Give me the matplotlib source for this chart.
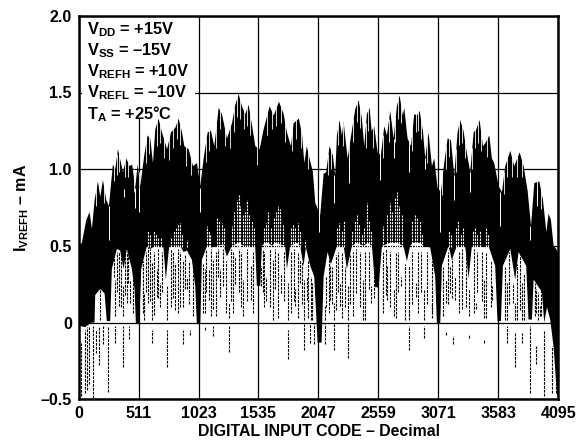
import numpy as np
import matplotlib
matplotlib.use("Agg")
import matplotlib.pyplot as plt
from matplotlib.patches import Rectangle

plt.rcParams['font.family'] = ['Liberation Sans', 'DejaVu Sans']
plt.rcParams['font.weight'] = 'bold'
plt.rcParams['axes.labelweight'] = 'bold'
plt.rcParams['mathtext.fontset'] = 'custom'
plt.rcParams['mathtext.bf'] = 'Liberation Sans:bold'
plt.rcParams['mathtext.rm'] = 'Liberation Sans:bold'
plt.rcParams['mathtext.default'] = 'bf'

x_ticks = [0, 511, 1023, 1535, 2047, 2559, 3071, 3583, 4095]
y_ticks = [-0.5, 0, 0.5, 1.0, 1.5, 2.0]
y_labels = ["–0.5", "0", "0.5", "1.0", "1.5", "2.0"]

notes = [r"$\mathbf{V_{DD}}$ = +15V", r"$\mathbf{V_{SS}}$ = –15V",
         r"$\mathbf{V_{REFH}}$ = +10V", r"$\mathbf{V_{REFL}}$ = –10V",
         r"$\mathbf{T_{A}}$ = +25°C"]

# top of the black band
top_code = [0, 27, 65, 93, 113, 136, 164, 184, 207, 235, 258, 292, 312, 335, 361, 378, 406, 435, 457, 483,
            503, 526, 560, 588, 611, 634, 654, 682, 711, 754, 788, 825, 853, 882, 902, 939, 976, 1010, 1038,
            1067, 1101, 1129, 1158, 1195, 1223, 1266, 1309, 1337, 1366, 1394, 1422, 1451, 1479, 1508, 1545,
            1579, 1630, 1665, 1710, 1750, 1778, 1812, 1835, 1880, 1908, 1926, 1948, 1971, 2000, 2020, 2062,
            2091, 2113, 2142, 2170, 2190, 2205, 2227, 2247, 2262, 2296, 2324, 2361, 2390, 2418, 2438, 2461,
            2484, 2501, 2523, 2552, 2580, 2609, 2632, 2660, 2689, 2717, 2740, 2768, 2780, 2808, 2837, 2865,
            2888, 2911, 2939, 2959, 2987, 3016, 3036, 3064, 3093, 3121, 3150, 3178, 3207, 3235, 3258, 3286,
            3309, 3343, 3372, 3395, 3423, 3452, 3472, 3506, 3528, 3548, 3585, 3614, 3642, 3685, 3719, 3765,
            3799, 3833, 3862, 3890, 3933, 3964, 3993, 4012, 4032, 4055, 4078, 4095]
top_ma = [0.50, 0.52, 0.67, 0.72, 0.61, 0.80, 0.92, 0.82, 0.93, 0.80, 0.76, 1.03, 1.00, 1.13, 1.04, 0.98, 1.07,
          1.02, 1.03, 0.88, 1.03, 0.89, 1.09, 1.22, 1.20, 1.04, 1.26, 1.33, 1.24, 1.13, 1.24, 1.27, 1.33, 1.24,
          1.15, 1.13, 1.02, 1.04, 0.89, 1.07, 1.24, 1.25, 1.15, 1.40, 1.36, 1.20, 1.30, 1.42, 1.49, 1.41, 1.36,
          1.42, 1.29, 1.15, 1.13, 1.26, 1.41, 1.35, 1.44, 1.36, 1.24, 1.15, 1.30, 1.33, 1.22, 1.04, 1.15, 1.07,
          0.98, 0.78, 0.70, 0.97, 0.98, 1.15, 1.09, 0.96, 1.22, 1.32, 1.22, 1.31, 1.07, 1.21, 1.39, 1.45, 1.33,
          1.15, 1.36, 1.40, 1.25, 1.28, 1.11, 1.09, 1.28, 1.22, 1.38, 1.20, 1.41, 1.48, 1.35, 1.40, 1.20, 1.15,
          1.36, 1.35, 1.38, 1.25, 1.07, 1.24, 1.02, 1.07, 0.88, 0.85, 1.04, 1.20, 1.19, 0.96, 1.24, 1.32, 1.25,
          1.13, 0.98, 1.24, 1.26, 1.32, 1.15, 1.17, 1.22, 1.07, 1.04, 0.89, 0.85, 1.02, 1.12, 1.02, 1.11, 1.02,
          0.86, 0.63, 0.91, 0.92, 0.80, 0.59, 0.71, 0.67, 0.50, 0.48, 0.45]

# bottom of the solid black band
low_code = [0, 4, 55, 107, 135, 141, 184, 221, 240, 269, 283, 326, 354, 383, 411, 454, 477, 488, 517, 534, 582,
            611, 653, 724, 744, 773, 824, 867, 895, 924, 966, 995, 1009, 1038, 1052, 1095, 1137, 1180, 1237,
            1265, 1308, 1365, 1408, 1436, 1464, 1507, 1521, 1550, 1564, 1593, 1621, 1649, 1678, 1721, 1763,
            1778, 1806, 1863, 1891, 1920, 1940, 1977, 2011, 2040, 2074, 2091, 2125, 2153, 2205, 2262, 2290,
            2333, 2375, 2432, 2467, 2504, 2532, 2561, 2589, 2660, 2717, 2773, 2802, 2830, 2853, 2916, 2944,
            3001, 3044, 3058, 3087, 3101, 3158, 3186, 3229, 3300, 3329, 3357, 3428, 3499, 3556, 3576, 3605,
            3622, 3685, 3727, 3756, 3821, 3841, 3870, 3884, 3955, 3975, 3998, 4026, 4055, 4083, 4095]
low_ma = [-0.05, -0.02, -0.03, 0.0, 0.0, 0.18, 0.22, 0.19, 0.01, 0.01, 0.35, 0.48, 0.47, 0.35, 0.48, 0.35, 0.22,
          0.0, -0.01, 0.35, 0.50, 0.48, 0.50, 0.49, 0.28, 0.50, 0.50, 0.50, 0.46, 0.47, 0.41, 0.24, -0.01, -0.01,
          0.41, 0.50, 0.49, 0.50, 0.51, 0.43, 0.50, 0.52, 0.50, 0.50, 0.50, 0.50, 0.24, 0.24, 0.50, 0.52, 0.52,
          0.50, 0.52, 0.51, 0.50, 0.35, 0.50, 0.52, 0.50, 0.37, 0.49, 0.37, 0.30, -0.13, -0.13, 0.30, 0.46, 0.38,
          0.50, 0.50, 0.35, 0.50, 0.52, 0.50, 0.52, 0.50, 0.23, 0.23, 0.50, 0.52, 0.52, 0.50, 0.40, 0.50, 0.52,
          0.52, 0.50, 0.49, 0.30, 0.0, -0.01, 0.37, 0.50, 0.41, 0.50, 0.50, 0.29, 0.50, 0.50, 0.50, 0.37, 0.01,
          0.01, 0.37, 0.48, 0.28, 0.46, 0.37, 0.02, 0.02, 0.28, 0.20, 0.0, 0.10, 0.02, -0.16, -0.46, -0.5]

# dashed glitch columns under the band
dash_code = [21, 50, 75, 90, 118, 147, 175, 209, 246, 306, 374, 431, 625, 756, 887, 952, 1075, 1146, 1280, 1783,
             1920, 1977, 2011, 2105, 2176, 2299, 2822, 2950, 3135, 3200, 3334, 3457, 3656, 3727, 3784, 3850,
             3907, 3975, 4040, 4075,
             184, 312, 346, 374, 411, 440, 554, 591, 630, 667, 696, 753, 824, 887, 924, 1075, 1114, 1146, 1208,
             1280, 1337, 1402, 1473, 1555, 1601, 1658, 1726, 1783, 1849, 1891, 1920, 1948, 1983, 2105, 2142,
             2176, 2233, 2299, 2370, 2427, 2495, 2632, 2689, 2754, 2817, 2822, 2882, 2950, 3015, 3135, 3172,
             3215, 3272, 3334, 3394, 3457, 3528, 3656, 3707, 3727, 3784, 3907, 3941,
             300, 330, 360, 395, 425, 460, 545, 575, 610, 645, 680, 710, 790, 805, 845, 865, 905, 945, 975,
             1060, 1090, 1130, 1170, 1190, 1230, 1255, 1300, 1320, 1365, 1385, 1440, 1490,
             1570, 1585, 1630, 1680, 1700, 1750, 1815, 1840, 1875, 1905, 1960, 1995,
             2110, 2135, 2160, 2195, 2215, 2250, 2275, 2320, 2345, 2400, 2445, 2475, 2520,
             2600, 2620, 2660, 2705, 2725, 2790, 2845, 2900, 2920, 2975, 3020,
             3110, 3150, 3190, 3245, 3270, 3310, 3375, 3400, 3445, 3480, 3520,
             3640, 3670, 3745, 3770, 3800, 3895, 3925, 3950]
dash_top = [-0.13, -0.05, -0.03, -0.03, -0.02, -0.05, -0.02, -0.02, -0.02, -0.02, -0.02, -0.02, -0.05, -0.05, -0.05,
            -0.05, -0.02, -0.02, -0.02, -0.05, -0.01, -0.01, -0.01, -0.01, -0.01, -0.01, -0.02, -0.02, -0.06, -0.09,
            -0.08, -0.11, -0.02, -0.06, -0.07, -0.02, -0.15, -0.05, -0.15, -0.20,
            0.24, 0.28, 0.46, 0.24, 0.46, 0.28, 0.19, 0.59, 0.39, 0.35, 0.26, 0.24, 0.39, 0.41, 0.30, 0.35, 0.35,
            0.41, 0.35, 0.13, 0.43, 0.28, 0.37, 0.37, 0.30, 0.41, 0.32, 0.26, 0.22, 0.41, 0.28, 0.30, 0.30, 0.11,
            0.37, 0.13, 0.26, 0.24, 0.48, 0.28, 0.24, 0.37, 0.22, 0.30, 0.22, 0.37, 0.26, 0.22, 0.13, 0.28, 0.37,
            0.30, 0.28, 0.22, 0.13, 0.28, 0.24, 0.26, 0.26, 0.13, 0.26, 0.22, 0.11,
            0.46, 0.46, 0.44, 0.46, 0.44, 0.33, 0.40, 0.46, 0.48, 0.46, 0.48, 0.46, 0.48, 0.46, 0.48, 0.46, 0.44,
            0.40, 0.36, 0.38, 0.48, 0.48, 0.46, 0.48, 0.48, 0.40, 0.48, 0.46, 0.48, 0.46, 0.48, 0.46,
            0.48, 0.46, 0.48, 0.48, 0.46, 0.46, 0.46, 0.48, 0.46, 0.40, 0.40, 0.26,
            0.30, 0.42, 0.36, 0.44, 0.46, 0.46, 0.36, 0.44, 0.46, 0.46, 0.46, 0.46, 0.40,
            0.46, 0.48, 0.46, 0.46, 0.46, 0.38, 0.46, 0.46, 0.46, 0.46, 0.40,
            0.36, 0.46, 0.42, 0.46, 0.48, 0.44, 0.48, 0.46, 0.46, 0.46, 0.40,
            0.36, 0.46, 0.38, 0.44, 0.32, 0.26, 0.20, 0.22]
dash_bottom = [-0.48, -0.46, -0.44, -0.40, -0.49, -0.20, -0.275, -0.14, -0.45, -0.13, -0.29, -0.11, -0.13, -0.29,
               -0.14, -0.08, -0.05, -0.09, -0.19, -0.24, -0.18, -0.13, -0.14, -0.14, -0.18, -0.23, -0.18, -0.10,
               -0.08, -0.14, -0.10, -0.13, -0.13, -0.29, -0.13, -0.46, -0.27, -0.48, -0.46, -0.46,
               0.02, 0.04, 0.11, 0.04, 0.13, 0.13, 0.02, 0.13, 0.02, 0.17, 0.10, 0.02, 0.08, 0.10, 0.22, 0.06, 0.15,
               0.09, 0.17, 0.03, 0.25, 0.04, 0.15, 0.24, 0.14, 0.02, 0.19, 0.02, 0.11, 0.26, 0.02, 0.15, 0.02, 0.02,
               0.15, 0.02, 0.11, 0.02, 0.19, 0.02, 0.13, 0.15, 0.04, 0.24, 0.04, 0.02, 0.17, 0.02, 0.03, 0.13, 0.19,
               0.15, 0.09, 0.04, 0.09, 0.03, 0.15, 0.02, 0.13, 0.02, 0.02, 0.06, 0.04,
               0.30, 0.20, 0.10, 0.18, 0.26, 0.06, 0.06, 0.20, 0.14, 0.05, 0.16, 0.20, 0.10, 0.16, 0.06, 0.10, 0.22,
               0.12, 0.04, 0.06, 0.20, 0.04, 0.04, 0.30, 0.24, 0.06, 0.14, 0.06, 0.20, 0.10, 0.14, 0.06,
               0.20, 0.10, 0.10, 0.22, 0.03, 0.14, 0.06, 0.14, 0.03, 0.12, 0.03, 0.02,
               0.10, 0.06, 0.12, 0.08, 0.20, 0.03, 0.10, 0.12, 0.04, 0.10, 0.02, 0.22, 0.16,
               0.06, 0.18, 0.10, 0.03, 0.20, 0.02, 0.12, 0.06, 0.20, 0.12, 0.06,
               0.04, 0.12, 0.16, 0.06, 0.24, 0.10, 0.06, 0.20, 0.14, 0.03, 0.10,
               0.02, 0.12, 0.02, 0.08, 0.02, 0.04, 0.02, 0.04]

# white speckle where the band thins out above 0.5 mA
speck_code = [590, 605, 640, 660, 680, 700, 790, 810, 830, 850, 867, 885, 925,
              1095, 1110, 1125, 1180, 1195, 1222, 1240, 1308, 1325, 1348, 1365, 1380, 1400, 1420, 1436, 1455, 1480, 1495,
              1580, 1600, 1615, 1640, 1665, 1685, 1700, 1720, 1745, 1810, 1830, 1850, 1870, 1890, 1935,
              2205, 2225, 2245, 2262, 2335, 2355, 2375, 2395, 2415, 2440, 2462, 2480, 2495,
              2600, 2630, 2655, 2675, 2700, 2717, 2735, 2760, 2850, 2870, 2890, 2910, 2935,
              3160, 3175, 3225, 3240, 3260, 3285, 3365, 3380, 3400, 3425, 3480, 3495]
speck_top = [0.60, 0.58, 0.60, 0.58, 0.56, 0.55, 0.56, 0.60, 0.62, 0.64, 0.65, 0.58, 0.54,
             0.63, 0.60, 0.58, 0.68, 0.66, 0.65, 0.62, 0.63, 0.72, 0.80, 0.83, 0.76, 0.70, 0.72, 0.80, 0.70, 0.66, 0.62,
             0.62, 0.65, 0.72, 0.62, 0.68, 0.72, 0.76, 0.74, 0.64, 0.62, 0.64, 0.62, 0.65, 0.60, 0.54,
             0.62, 0.65, 0.60, 0.66, 0.60, 0.66, 0.70, 0.64, 0.58, 0.62, 0.78, 0.66, 0.60,
             0.63, 0.70, 0.78, 0.72, 0.82, 0.85, 0.76, 0.70, 0.66, 0.70, 0.68, 0.66, 0.58,
             0.60, 0.57, 0.62, 0.66, 0.58, 0.62, 0.60, 0.62, 0.58, 0.60, 0.62, 0.58]
speck_bottom = [0.49] * len(speck_code)

# thin white gaps cutting into the band
slit_code = [255, 383, 483, 517, 1032, 2050, 2182, 2304, 2569, 2689, 2817, 2959, 3081, 3201, 3338, 3600, 3856, 3912]
slit_top = [0.76, 0.87, 0.88, 0.87, 0.88, 0.87, 0.96, 1.07, 1.11, 1.20, 1.15, 1.07, 0.88, 0.96, 0.98, 0.85, 0.63, 0.87]
slit_bottom = [0.54, 0.82, 0.75, 0.72, 0.72, 0.59, 0.78, 0.91, 0.93, 1.07, 0.98, 1.00, 0.59, 0.80, 0.85, 0.63, 0.54, 0.76]

# short cuts between the spikes along the top edge
notch_code = [150, 220, 300, 323, 348, 392, 420, 470, 515, 575, 600, 665, 696, 732, 770, 806, 840, 868, 920, 958,
              1085, 1115, 1175, 1210, 1245, 1288, 1323, 1352, 1380, 1408, 1436, 1465, 1525,
              1605, 1648, 1688, 1730, 1765, 1825, 1857, 1895, 1960,
              2128, 2155, 2216, 2255, 2310, 2343, 2375, 2404, 2450, 2473, 2512,
              2595, 2646, 2703, 2728, 2755, 2822, 2850, 2877, 2900, 2925, 2973,
              3105, 3135, 3165, 3220, 3247, 3272, 3297, 3358, 3384, 3409, 3437, 3490,
              3630, 3660, 3700, 3740, 3782, 3910, 3950]
notch_bottom = [0.76, 0.78, 0.92, 0.96, 0.98, 0.95, 0.95, 0.85, 0.84, 1.04, 1.10, 1.15, 1.17, 1.07, 1.06, 1.14, 1.20,
                1.16, 1.02, 0.96, 1.05, 1.12, 1.14, 1.26, 1.15, 1.14, 1.24, 1.34, 1.33, 1.26, 1.28, 1.22, 1.03,
                1.22, 1.26, 1.28, 1.30, 1.18, 1.12, 1.20, 1.14, 1.00,
                0.96, 1.00, 1.16, 1.15, 1.03, 1.18, 1.31, 1.27, 1.14, 1.25, 1.14,
                1.07, 1.18, 1.18, 1.33, 1.30, 1.06, 1.12, 1.24, 1.25, 1.20, 1.04,
                0.83, 1.00, 1.08, 0.98, 1.16, 1.17, 1.07, 1.00, 1.14, 1.17, 1.12, 1.08,
                0.84, 0.95, 0.95, 0.95, 0.95, 0.80, 0.74]
notch_top = [0.90, 0.90, 1.05, 1.10, 1.12, 1.09, 1.08, 1.00, 0.98, 1.20, 1.23, 1.32, 1.32, 1.22, 1.22, 1.28, 1.34,
             1.32, 1.17, 1.10, 1.20, 1.28, 1.30, 1.41, 1.32, 1.28, 1.40, 1.48, 1.48, 1.42, 1.42, 1.39, 1.17,
             1.37, 1.42, 1.44, 1.43, 1.33, 1.28, 1.35, 1.30, 1.14,
             1.10, 1.16, 1.30, 1.30, 1.17, 1.33, 1.45, 1.42, 1.30, 1.42, 1.30,
             1.22, 1.33, 1.34, 1.48, 1.45, 1.20, 1.29, 1.38, 1.40, 1.35, 1.20,
             0.98, 1.15, 1.22, 1.13, 1.32, 1.32, 1.22, 1.14, 1.28, 1.32, 1.28, 1.23,
             0.98, 1.10, 1.11, 1.10, 1.10, 0.95, 0.88]

fig = plt.figure(figsize=(5.85, 4.46), dpi=100)
ax = fig.add_axes([78.7 / 585, 1 - 399.3 / 446, 479.6 / 585, 383.5 / 446])

ax.set_xlim(0, 4095)
ax.set_ylim(-0.5, 2.0)
ax.set_xticks(x_ticks)
ax.set_yticks(y_ticks)
ax.set_yticklabels(y_labels)
ax.tick_params(length=0, labelsize=11.5, pad=5)
ax.grid(True, color='black', lw=0.9)
ax.set_axisbelow(True)
for s in ax.spines.values():
    s.set_linewidth(1.8)

# white patch behind the conditions text hides the grid
ax.add_patch(Rectangle((32, 1.327), 963, 0.673, fc='white', ec='none', zorder=1.5))

ax.fill(np.concatenate([top_code, low_code[::-1]]), np.concatenate([top_ma, low_ma[::-1]]),
        color='black', lw=0, zorder=2)
ax.vlines(dash_code, dash_bottom, dash_top, color='black', lw=0.8, linestyles=(0, (2.5, 1)), zorder=2)
ax.vlines(speck_code, speck_bottom, speck_top, color='white', lw=0.8, linestyles=(0, (2, 1)), zorder=2.5)
ax.vlines(slit_code, slit_bottom, slit_top, color='white', lw=0.7, zorder=2.5)
ax.vlines(notch_code, notch_bottom, notch_top, color='white', lw=0.6, zorder=2.5)

for i, note in enumerate(notes):
    ax.text(70, 1.91 - i * 0.137, note, fontsize=11.8, va='center', ha='left', zorder=4)

ax.set_xlabel("DIGITAL INPUT CODE – Decimal", fontsize=11.4, labelpad=2)
ax.set_ylabel(r"$\mathbf{I_{VREFH}}$ – mA", fontsize=11.5, labelpad=7)

fig.savefig("out.png", dpi=100)
